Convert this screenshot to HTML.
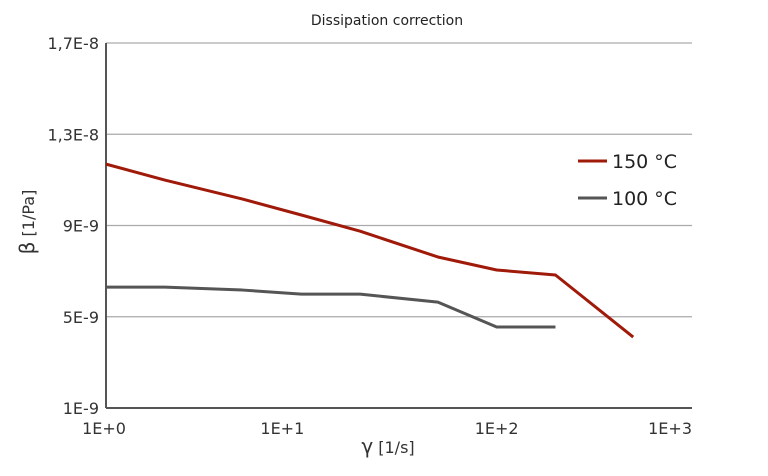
<!DOCTYPE html>
<html><head><meta charset="utf-8"><style>
body{margin:0;background:#fff;}
svg{display:block;font-family:"DejaVu Sans","Liberation Sans",sans-serif;}
</style></head><body>
<svg width="768" height="476" viewBox="0 0 768 476">
<text x="387" y="25" text-anchor="middle" font-size="14" fill="#222">Dissipation correction</text>
<g id="grid"></g><g id="axes"></g><g id="series"></g>
<g>
<g><line x1="578" y1="161" x2="607" y2="161" stroke="#a01a0a" stroke-width="3"/><text x="612" y="168" font-size="19" fill="#222">150 °C</text></g>
<g><line x1="578" y1="198" x2="607" y2="198" stroke="#555" stroke-width="3"/><text x="612" y="205" font-size="19" fill="#222">100 °C</text></g>
</g>
<text x="388" y="453" text-anchor="middle" font-size="16" fill="#333"><tspan font-size="20">γ</tspan> [1/s]</text>
<text transform="translate(34,222) rotate(-90)" text-anchor="middle" font-size="16" fill="#333"><tspan font-size="20">β</tspan> [1/Pa]</text>
</svg>
<script>
const shearRates=[1,2,5,10,20,50,100,200,500];
const beta150=[11.69,10.99,10.16,9.46,8.75,7.62,7.05,6.83,4.11];
const beta100=[6.30,6.30,6.17,5.99,5.99,5.64,4.55,4.55];
const yTicks=[1,5,9,13,17];
const yTickLabels=["1E-9","5E-9","9E-9","1,3E-8","1,7E-8"];
const xTicks=[1,10,100,1000];
const xTickLabels=["1E+0","1E+1","1E+2","1E+3"];
const X0=106,X1=692,Y0=408,Y1=43;
function xs(v){return X0+(Math.log10(v)-0)/3*(X1-X0);}
function ys(v){return Y0-(v-1)/16*(Y0-Y1);}
const NS="http://www.w3.org/2000/svg";
function mk(t,a,p){const e=document.createElementNS(NS,t);for(const k in a)e.setAttribute(k,a[k]);p.appendChild(e);return e;}
const grid=document.getElementById('grid'),axes=document.getElementById('axes'),ser=document.getElementById('series');
yTicks.forEach((v,i)=>{
  if(i>0){const l=mk('line',{x1:X0,x2:X1,y1:ys(v),y2:ys(v),stroke:'#aaa','stroke-width':1.3},grid);
  
  }
  const t=mk('text',{x:99,y:ys(v)+6,'text-anchor':'end','font-size':16,fill:'#333'},axes);
  t.textContent=yTickLabels[i];
  
  
});
xTicks.forEach((v,i)=>{
  const anchor=i===xTicks.length-1?'end':'middle';
  const off=i===1?-19:(i===0?-2:0);
  const t=mk('text',{x:xs(v)+off,y:434,'text-anchor':anchor,'font-size':16,fill:'#333'},axes);
  t.textContent=xTickLabels[i];
  
  
});
const xa=mk('line',{x1:X0,x2:X1,y1:Y0,y2:Y0,stroke:'#555','stroke-width':2},axes);


const ya=mk('line',{x1:X0,x2:X0,y1:Y1,y2:Y0,stroke:'#555','stroke-width':2},axes);


function line(vals,color,name){
  const pts=vals.map((v,i)=>xs(shearRates[i])+','+ys(v)).join(' ');
  const p=mk('polyline',{points:pts,fill:'none',stroke:color,'stroke-width':3,'stroke-linejoin':'round'},ser);
  
  
}
line(beta100,'#555','series-100c');
line(beta150,'#a01a0a','series-150c');
</script>
</body></html>
